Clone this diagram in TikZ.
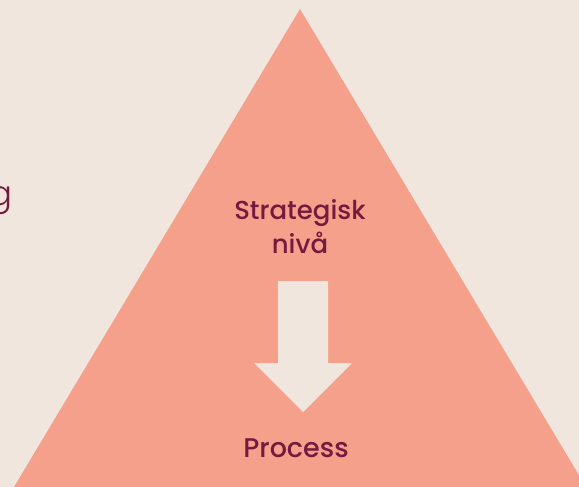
\documentclass[tikz,border=0pt]{standalone}
\usepackage{fontspec}
\setmainfont{Poppins}
\newfontfamily\pmed{Poppins}[UprightFont=* Medium]
\newfontfamily\plight{Poppins}[UprightFont=* Light]
\definecolor{bg}{HTML}{F0E6DE}
\definecolor{tri}{HTML}{F4A08A}
\definecolor{ink}{HTML}{731A3E}
\tikzset{
  lbl/.style={text=ink, font=\pmed\fontsize{26}{34}\selectfont, align=center, inner sep=0pt},
}
\begin{document}
\begin{tikzpicture}[x=1pt,y=-1pt]
\fill[bg] (0,0) rectangle (579,487);
\useasboundingbox (0,0) rectangle (579,487);
\fill[tri] (300,9) -- (586,487) -- (14,487) -- cycle;
\fill[bg] (278,281) -- (328,281) -- (328,363) -- (352,363) -- (303,412) -- (254,363) -- (278,363) -- cycle;
\node[lbl, anchor=base] (s) at (300,253) {Strategisk\\nivå};
\node[lbl, anchor=base, font=\pmed\fontsize{27}{34}\selectfont] (p) at (296,457) {Process};
\node[text=ink, font=\plight\fontsize{34}{40}\selectfont, anchor=base east, inner sep=0pt] (g) at (13,205) {g};
\end{tikzpicture}
\end{document}
